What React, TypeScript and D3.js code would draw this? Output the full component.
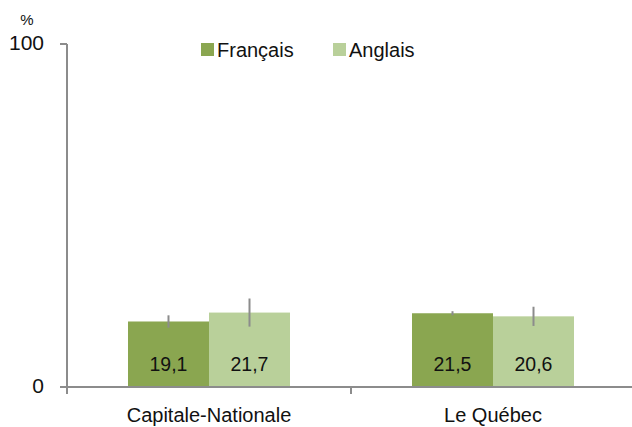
import * as d3 from "d3";

const categories = ["Capitale-Nationale", "Le Québec"];
const seriesNames = ["Français", "Anglais"];
const francais = [19.1, 21.5];
const anglais = [21.7, 20.6];
const francaisErr = [1.8, 0.6];
const anglaisErr = [4.1, 2.8];
const yTicks = [0, 100];

const colors = ["#8aa650", "#b9d09a"];
const axisColor = "#8c8c8c";

export default function App() {
  const width = 632;
  const height = 427;
  const margin = { top: 44, right: -3, bottom: 40, left: 67 };
  const innerW = width - margin.left - margin.right;
  const innerH = height - margin.top - margin.bottom;

  const x = d3.scaleBand().domain(categories).range([0, innerW]).paddingInner(0).paddingOuter(0);
  const x1 = d3.scaleBand().domain(seriesNames).range([0, x.bandwidth()]).paddingInner(0).paddingOuter(0.753);
  const y = d3.scaleLinear().domain([0, 100]).range([innerH, 0]);

  const values = [francais, anglais];
  const errs = [francaisErr, anglaisErr];
  const font = "'Liberation Sans', Arial, sans-serif";

  return (
    <svg width={width} height={height} style={{ position: "absolute", left: 0, top: 0, fontFamily: font }}>
      <g transform={`translate(${margin.left},${margin.top})`}>
        {categories.map((c, ci) =>
          seriesNames.map((s, si) => {
            const v = values[si][ci];
            const e = errs[si][ci];
            const bx = (x(c) || 0) + (x1(s) || 0);
            const cx = bx + x1.bandwidth() / 2;
            return (
              <g key={c + s}>
                <rect x={bx} y={y(v)} width={x1.bandwidth()} height={innerH - y(v)} fill={colors[si]} />
                <line x1={cx} x2={cx} y1={y(v + e)} y2={y(v - e)} stroke={axisColor} strokeWidth={2} />
                <text x={cx} y={innerH - 16} textAnchor="middle" fontSize={19.5} fill="#111">
                  {v.toFixed(1).replace(".", ",")}
                </text>
              </g>
            );
          })
        )}
        {/* y axis */}
        <line x1={0} x2={0} y1={y(100)} y2={innerH + 7} stroke={axisColor} strokeWidth={2} />
        {yTicks.map((t) => (
          <g key={t}>
            <line x1={-7} x2={0} y1={y(t)} y2={y(t)} stroke={axisColor} strokeWidth={2} />
            <text x={-23} y={y(t) - 1} dy="0.35em" textAnchor="end" fontSize={21} fill="#111">
              {t}
            </text>
          </g>
        ))}
        <text x={-40} y={-19} textAnchor="middle" fontSize={15} fill="#111">%</text>
        {/* x axis */}
        <line x1={-7} x2={innerW} y1={innerH} y2={innerH} stroke={axisColor} strokeWidth={2} />
        {categories.map((c, i) => (
          <g key={c}>
            {i > 0 && (
              <line x1={x(c)} x2={x(c)} y1={innerH} y2={innerH + 7} stroke={axisColor} strokeWidth={2} />
            )}
            <text x={(x(c) || 0) + x.bandwidth() / 2} y={innerH + 35} textAnchor="middle" fontSize={20} fill="#111">
              {c}
            </text>
          </g>
        ))}
      </g>
      {/* legend */}
      {seriesNames.map((s, i) => {
        const lx = [201, 333][i];
        return (
          <g key={s}>
            <rect x={lx} y={43} width={13} height={13} fill={colors[i]} />
            <text x={lx + 16} y={57} fontSize={20} fill="#111">{s}</text>
          </g>
        );
      })}
    </svg>
  );
}
